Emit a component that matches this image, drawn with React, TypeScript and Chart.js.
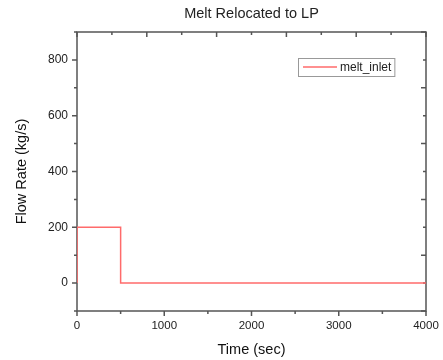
import React, { useEffect, useRef } from "react";
import { Chart, registerables } from "chart.js";

Chart.register(...registerables);

// ---- data ----
const timeSec = [0, 0, 500, 500, 4000];
const flowRate = [0, 200, 200, 0, 0];
const seriesLabel = "melt_inlet";
const chartTitle = "Melt Relocated to LP";
const xTitle = "Time (sec)";
const yTitle = "Flow Rate (kg/s)";
const xTickLabels = [0, 1000, 2000, 3000, 4000];
const yTickLabels = [0, 200, 400, 600, 800];
const xRange = [0, 4000];
const yRange = [-100, 900];

const FONT = "'Liberation Sans', Arial, sans-serif";
const AXIS = "#555555";
const LINE = "#ff6b6b";

const range = (a: number, b: number, s: number) => {
  const out: number[] = [];
  for (let v = a; v <= b + 1e-9; v += s) out.push(v);
  return out;
};

const framePlugin = {
  id: "frame",
  beforeDatasetsDraw(chart: any) {
    const { ctx, chartArea, scales } = chart;
    const { left, right, top, bottom } = chartArea;
    const x = scales.x;
    const y = scales.y;
    ctx.save();
    ctx.strokeStyle = AXIS;
    ctx.lineWidth = 1.5;
    ctx.beginPath();
    // bottom ticks (outward)
    range(0, 4000, 500).forEach((v) => {
      const px = x.getPixelForValue(v);
      const len = v % 1000 === 0 ? 5 : 3;
      ctx.moveTo(px, bottom);
      ctx.lineTo(px, bottom + len);
    });
    // top ticks (inward)
    range(0, 4000, 400).forEach((v) => {
      const px = x.getPixelForValue(v);
      const len = v % 800 === 0 ? 5 : 3;
      ctx.moveTo(px, top);
      ctx.lineTo(px, top + len);
    });
    // left ticks (outward)
    range(-100, 900, 100).forEach((v) => {
      const py = y.getPixelForValue(v);
      const len = v % 200 === 0 ? 5 : 3;
      ctx.moveTo(left, py);
      ctx.lineTo(left - len, py);
    });
    // right ticks (inward)
    range(-100, 900, 100).forEach((v) => {
      const py = y.getPixelForValue(v);
      const len = Math.abs(v % 200) === 100 ? 5 : 3;
      ctx.moveTo(right, py);
      ctx.lineTo(right - len, py);
    });
    ctx.stroke();
    ctx.strokeRect(left, top, right - left, bottom - top);
    ctx.restore();
  },
};

const legendPlugin = {
  id: "boxLegend",
  afterDraw(chart: any) {
    const { ctx, chartArea } = chart;
    const ds = chart.data.datasets[0];
    const bx = chartArea.right - 128;
    const by = chartArea.top + 26;
    ctx.save();
    ctx.font = `12px ${FONT}`;
    const tw = ctx.measureText(ds.label).width;
    const bw = 5 + 34 + 3 + tw + 3;
    const bh = 18;
    ctx.fillStyle = "#ffffff";
    ctx.fillRect(bx, by, bw, bh);
    ctx.strokeStyle = "#999999";
    ctx.lineWidth = 1;
    ctx.strokeRect(bx + 0.5, by + 0.5, bw, bh);
    ctx.strokeStyle = ds.borderColor;
    ctx.lineWidth = 1.5;
    ctx.beginPath();
    ctx.moveTo(bx + 5, by + bh / 2);
    ctx.lineTo(bx + 39, by + bh / 2);
    ctx.stroke();
    ctx.fillStyle = "#222222";
    ctx.textBaseline = "middle";
    ctx.fillText(ds.label, bx + 42, by + bh / 2 + 0.5);
    ctx.restore();
  },
};

export default function App() {
  const ref = useRef<HTMLCanvasElement | null>(null);

  useEffect(() => {
    document.body.style.margin = "0";
    const canvas = ref.current;
    if (!canvas) return;
    const chart = new Chart(canvas, {
      type: "line",
      data: {
        datasets: [
          {
            label: seriesLabel,
            data: timeSec.map((t, i) => ({ x: t, y: flowRate[i] })),
            borderColor: LINE,
            borderWidth: 1.5,
            pointRadius: 0,
            fill: false,
            tension: 0,
          },
        ],
      },
      options: {
        animation: false,
        responsive: false,
        layout: { padding: { left: 0, right: 17, top: 0, bottom: 0 } },
        plugins: {
          legend: { display: false },
          tooltip: { enabled: false },
          title: {
            display: true,
            text: chartTitle,
            fullSize: false,
            color: "#222222",
            font: { family: FONT, size: 14.5, weight: "normal" },
            padding: { top: 5, bottom: 9.6 },
          },
        },
        scales: {
          x: {
            type: "linear",
            min: xRange[0],
            max: xRange[1],
            grid: { display: false, drawTicks: false },
            border: { display: false },
            afterBuildTicks: (s: any) => {
              s.ticks = xTickLabels.map((v) => ({ value: v }));
            },
            afterFit: (s: any) => {
              s.height = 49;
              s.paddingLeft = 0;
              s.paddingRight = 0;
            },
            ticks: {
              color: "#222222",
              font: { family: FONT, size: 11.5 },
              padding: 8,
              maxRotation: 0,
              callback: (v: any) => String(v),
            },
            title: {
              display: true,
              text: xTitle,
              color: "#111111",
              font: { family: FONT, size: 14.5 },
              padding: { top: 0, bottom: 1.8 },
            },
          },
          y: {
            type: "linear",
            min: yRange[0],
            max: yRange[1],
            grid: { display: false, drawTicks: false },
            border: { display: false },
            afterBuildTicks: (s: any) => {
              s.ticks = yTickLabels.map((v) => ({ value: v }));
            },
            afterFit: (s: any) => {
              s.width = 77;
              s.paddingTop = 0;
              s.paddingBottom = 0;
            },
            ticks: {
              color: "#222222",
              font: { family: FONT, size: 12 },
              padding: 9,
              callback: (v: any) => String(v),
            },
            title: {
              display: true,
              text: yTitle,
              color: "#111111",
              font: { family: FONT, size: 14.5 },
              padding: { top: 13.3, bottom: 0 },
            },
          },
        },
      },
      plugins: [framePlugin, legendPlugin],
    } as any);
    return () => chart.destroy();
  }, []);

  return (
    <div style={{ width: 443, height: 360, background: "#ffffff" }}>
      <canvas ref={ref} width={443} height={360} />
    </div>
  );
}
